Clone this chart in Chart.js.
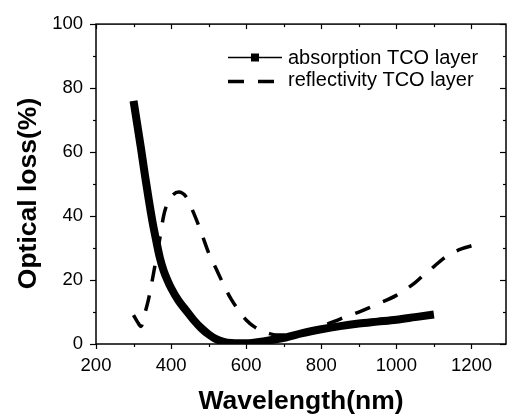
<!DOCTYPE html>
<html>
<head>
<meta charset="utf-8">
<script src="https://cdn.jsdelivr.net/npm/chart.js@4"></script>
<style>
  html, body { margin: 0; padding: 0; background: #fff; overflow: hidden; }
  #wrap { position: relative; width: 507px; height: 416px; }
</style>
</head>
<body>
<div id="wrap"><canvas id="opticalChart"></canvas></div>
<script>
// Wavelength (nm) for each series
const absWavelength = [300, 310, 320, 330, 340, 350, 360, 370, 380, 390, 400, 420, 440, 460, 480, 500, 520, 540, 560, 580, 600, 620, 640, 660, 680, 700, 750, 800, 850, 900, 950, 1000, 1050, 1100];
const absorption = [76, 68.5, 61, 53, 45.5, 38.5, 32.5, 27, 23, 20, 17.5, 13.5, 10.5, 7.5, 5, 3, 1.5, 0.7, 0.3, 0.2, 0.2, 0.4, 0.7, 1.1, 1.5, 1.9, 3.4, 4.6, 5.6, 6.4, 7.0, 7.6, 8.4, 9.2];

const refWavelength = [300, 310, 320, 330, 340, 350, 360, 370, 380, 390, 400, 420, 440, 460, 480, 500, 520, 540, 560, 580, 600, 620, 640, 660, 680, 700, 750, 800, 850, 900, 950, 1000, 1050, 1075, 1100, 1125, 1150, 1175, 1200];
const reflectivity = [9, 7, 5.5, 9.5, 14, 20, 26.5, 33, 40, 44, 46, 47.5, 46, 41, 35, 28.5, 23.5, 18.5, 14, 10.5, 7.5, 5.5, 4.2, 3.3, 2.8, 2.8, 3.8, 5.5, 7.8, 10, 12.5, 15.2, 19.2, 21.8, 24.2, 26.7, 28.5, 29.8, 30.7];

// Axis ticks
const xTickLabels = [200, 400, 600, 800, 1000, 1200];
const xMinorTicks = [300, 500, 700, 900, 1100];
const yTickLabels = [0, 20, 40, 60, 80, 100];
const yMinorTicks = [10, 30, 50, 70, 90];

const seriesNames = ["absorption TCO layer", "reflectivity TCO layer"];
const xTitle = "Wavelength(nm)";
const yTitle = "Optical loss(%)";

const FONT = "'Liberation Sans', Arial, sans-serif";

const toPoints = (xs, ys) => xs.map((x, i) => ({ x: x, y: ys[i] }));

/**
 * Frame, mirrored ticks, axis titles and legend
 */
const framePlugin = {
  id: "frame",
  afterDraw(chart) {
    const ctx = chart.ctx;
    const a = chart.chartArea;
    const xs = chart.scales.x;
    const ys = chart.scales.y;

    ctx.save();
    ctx.strokeStyle = "#000";
    ctx.lineWidth = 1.5;
    ctx.strokeRect(a.left, a.top, a.right - a.left, a.bottom - a.top);

    const tick = (x1, y1, x2, y2) => {
      ctx.beginPath();
      ctx.moveTo(x1, y1);
      ctx.lineTo(x2, y2);
      ctx.stroke();
    };
    ctx.lineWidth = 1.2;
    xTickLabels.concat(xMinorTicks).forEach((v) => {
      const len = xTickLabels.includes(v) ? 5 : 3;
      const px = Math.round(xs.getPixelForValue(v)) + 0.5;
      tick(px, a.bottom, px, a.bottom + len);
      tick(px, a.top, px, a.top + len);
    });
    yTickLabels.concat(yMinorTicks).forEach((v) => {
      const len = yTickLabels.includes(v) ? 6 : 3;
      const py = Math.round(ys.getPixelForValue(v)) + 0.5;
      tick(a.left - len, py, a.left, py);
      tick(a.right - len, py, a.right, py);
    });

    // axis titles
    ctx.fillStyle = "#000";
    ctx.font = "bold 26.5px " + FONT;
    ctx.textAlign = "center";
    ctx.textBaseline = "alphabetic";
    ctx.fillText(xTitle, (a.left + a.right) / 2, 409);
    ctx.save();
    ctx.translate(36, 193.5);
    ctx.rotate(-Math.PI / 2);
    ctx.fillText(yTitle, 0, 0);
    ctx.restore();

    // legend
    ctx.lineWidth = 1.5;
    tick(228, 57.5, 282, 57.5);
    ctx.fillRect(251, 53.5, 8, 8);
    ctx.lineWidth = 3.5;
    ctx.setLineDash([16, 14]);
    tick(228, 81.5, 278, 81.5);
    ctx.setLineDash([]);
    ctx.font = "20px " + FONT;
    ctx.textAlign = "left";
    ctx.fillText(seriesNames[0], 288, 64);
    ctx.fillText(seriesNames[1], 288, 86);
    ctx.restore();
  },
};

const ctx = document.getElementById("opticalChart").getContext("2d");
const opticalChart = new Chart(ctx, {
  type: "line",
  data: {
    datasets: [
      {
        label: seriesNames[0],
        data: toPoints(absWavelength, absorption),
        borderColor: "#000",
        backgroundColor: "#000",
        borderWidth: 8,
        pointRadius: 0,
        cubicInterpolationMode: "monotone",
        clip: 0,
      },
      {
        label: seriesNames[1],
        data: toPoints(refWavelength, reflectivity),
        borderColor: "#000",
        backgroundColor: "#000",
        borderWidth: 3.5,
        borderDash: [16, 14],
        pointRadius: 0,
        cubicInterpolationMode: "monotone",
      },
    ],
  },
  options: {
    responsive: true,
    maintainAspectRatio: false,
    animation: false,
    devicePixelRatio: 1,
    layout: { padding: { left: 0, right: 1, top: 14, bottom: 0 } },
    plugins: {
      legend: { display: false },
      tooltip: { enabled: false },
    },
    scales: {
      x: {
        type: "linear",
        min: 200,
        max: 1292,
        grid: { display: false, drawTicks: false },
        border: { display: false },
        afterBuildTicks: (scale) => {
          scale.ticks = xTickLabels.map((v) => ({ value: v }));
        },
        afterFit: (scale) => {
          scale.height = 72;
        },
        ticks: {
          color: "#000",
          padding: 11,
          maxRotation: 0,
          font: { family: FONT, size: 18.5 },
          callback: (v) => String(v),
        },
      },
      y: {
        type: "linear",
        min: 0,
        max: 100,
        grid: { display: false, drawTicks: false },
        border: { display: false },
        afterBuildTicks: (scale) => {
          scale.ticks = yTickLabels.map((v) => ({ value: v }));
        },
        afterFit: (scale) => {
          scale.width = 96;
        },
        ticks: {
          color: "#000",
          padding: 13,
          font: { family: FONT, size: 18.5 },
          callback: (v) => String(v),
        },
      },
    },
  },
  plugins: [framePlugin],
});
</script>
</body>
</html>
